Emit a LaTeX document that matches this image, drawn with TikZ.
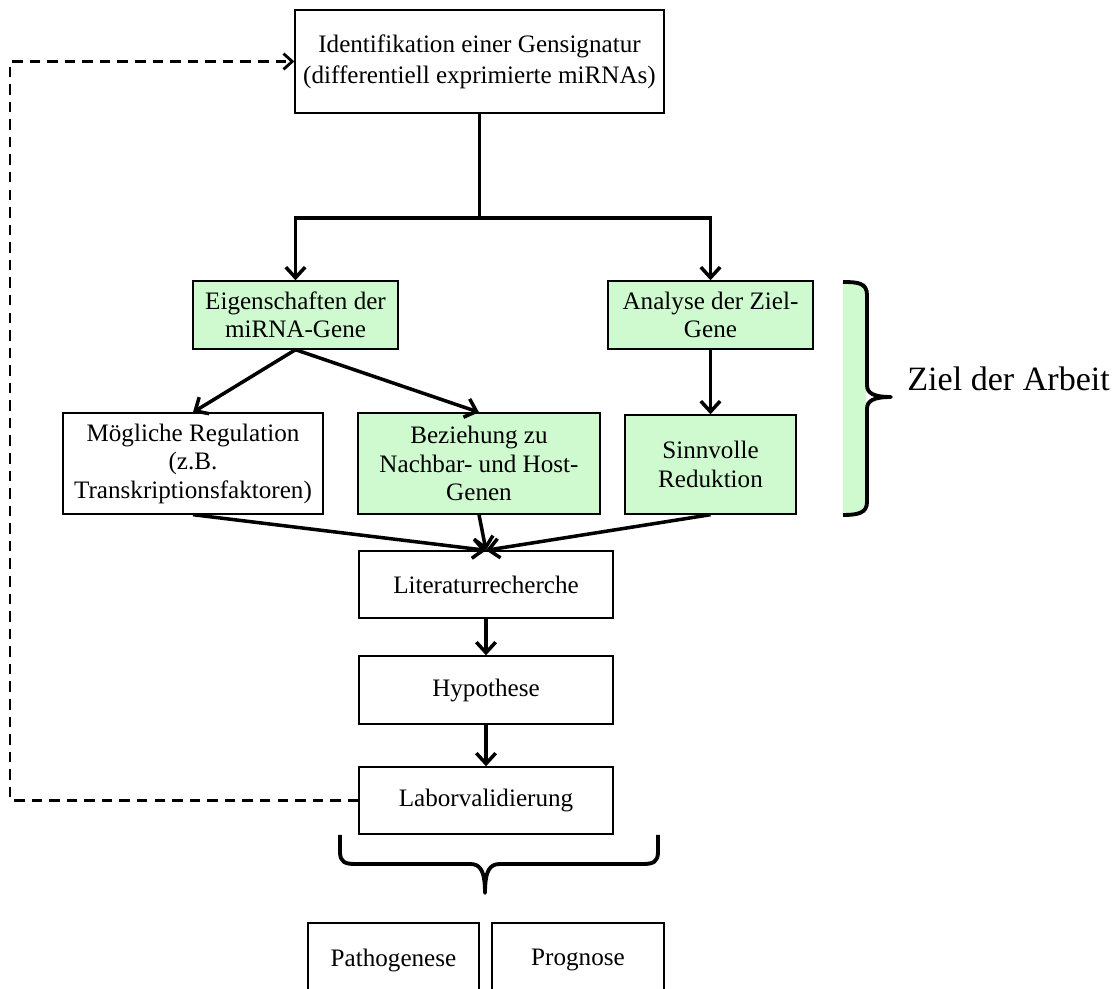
\documentclass[tikz,border=0pt]{standalone}
\usepackage{fontspec}
\setmainfont{Liberation Serif}
\usetikzlibrary{arrows.meta}
\definecolor{boxgreen}{RGB}{207,250,207}
\tikzset{
  box/.style={draw, line width=0.8pt, align=center, inner sep=0pt, fill=white,
    font=\fontsize{14.3}{16.2}\selectfont},
  gbox/.style={box, fill=boxgreen},
  conn/.style={line width=2pt, -{Straight Barb[length=6pt,width=11pt]}},
  plainline/.style={line width=2pt},
  fbline/.style={line width=1.6pt, dash pattern=on 6pt off 4pt, -{Straight Barb[length=5pt,width=9pt]}},
  bracepath/.style={line width=2.2pt, line join=round}
}
\begin{document}
\begin{tikzpicture}[x=0.02cm,y=-0.02cm]
\useasboundingbox (0,0) rectangle (1117,989);
\clip (0,0) rectangle (1117,989);

% boxes
\node[box, minimum width=7.38cm, minimum height=2.06cm, font=\fontsize{14.3}{17.8}\selectfont] (top) at (479.5,61.5)
  {Identifikation einer Gensignatur\\(differentiell exprimierte miRNAs)};
\node[gbox, minimum width=4.10cm, minimum height=1.36cm] (eig) at (295.5,315)
  {Eigenschaften der\\miRNA-Gene};
\node[gbox, minimum width=4.10cm, minimum height=1.36cm] (ana) at (710.5,315)
  {Analyse der Ziel-\\Gene};
\node[box, minimum width=5.20cm, minimum height=2.02cm] (moe) at (193,463.5)
  {Mögliche Regulation\\(z.B.\\Transkriptionsfaktoren)};
\node[gbox, minimum width=4.84cm, minimum height=2.02cm] (bez) at (479,463.5)
  {Beziehung zu\\Nachbar- und Host-\\Genen};
\node[gbox, minimum width=3.42cm, minimum height=1.98cm] (sin) at (710.5,464.5)
  {Sinnvolle\\Reduktion};
\node[box, minimum width=5.08cm, minimum height=1.34cm] (lit) at (486,584.5)
  {Literaturrecherche};
\node[box, minimum width=5.08cm, minimum height=1.36cm] (hyp) at (486,690)
  {Hypothese};
\node[box, minimum width=5.08cm, minimum height=1.34cm] (lab) at (486,800.5)
  {Laborvalidierung};
\node[box, minimum width=3.42cm, minimum height=1.48cm] (pat) at (393.5,960)
  {Pathogenese};
\node[box, minimum width=3.44cm, minimum height=1.48cm] (pro) at (578,960)
  {Prognose};

% connectors
\coordinate (split) at (479.5,218);
\draw[plainline] (top.south) -- (split);
\draw[conn] (split) -| (eig.north);
\draw[conn] (split) -| (ana.north);
\draw[conn] (eig.south) -- (moe.north);
\draw[conn] (eig.south) -- (bez.north);
\draw[conn] (ana.south) -- (sin.north);
\draw[conn] (moe.south) -- (lit.north);
\draw[conn] (bez.south) -- (lit.north);
\draw[conn] (sin.south) -- (lit.north);
\draw[conn] (lit.south) -- (hyp.north);
\draw[conn] (hyp.south) -- (lab.north);

% feedback dashed line
\coordinate (fb) at (10,400);
\draw[fbline] (lab.west) -| (fb) |- (top.west);

% right brace with green strip
\fill[boxgreen] (843,283) rectangle (866,513);
\draw[bracepath] (843,282) .. controls (858,282) and (867,283) .. (867,295)
  -- (867,385) .. controls (867,393) and (873,397) .. (891,397)
  .. controls (873,397) and (867,401) .. (867,409)
  -- (867,502) .. controls (867,513) and (858,515) .. (843,515);
\node[anchor=base west, inner sep=0pt, font=\fontsize{19.4}{22}\selectfont] (ziel) at (907,391) {Ziel der Arbeit};

% bottom brace
\draw[bracepath] (340,835) -- (340,852) .. controls (340,862) and (345,864) .. (355,864)
  -- (470,864) .. controls (480,864) and (485,870) .. (485,893)
  .. controls (485,870) and (490,864) .. (500,864)
  -- (643,864) .. controls (653,864) and (658,862) .. (658,852) -- (658,835);
\end{tikzpicture}
\end{document}
